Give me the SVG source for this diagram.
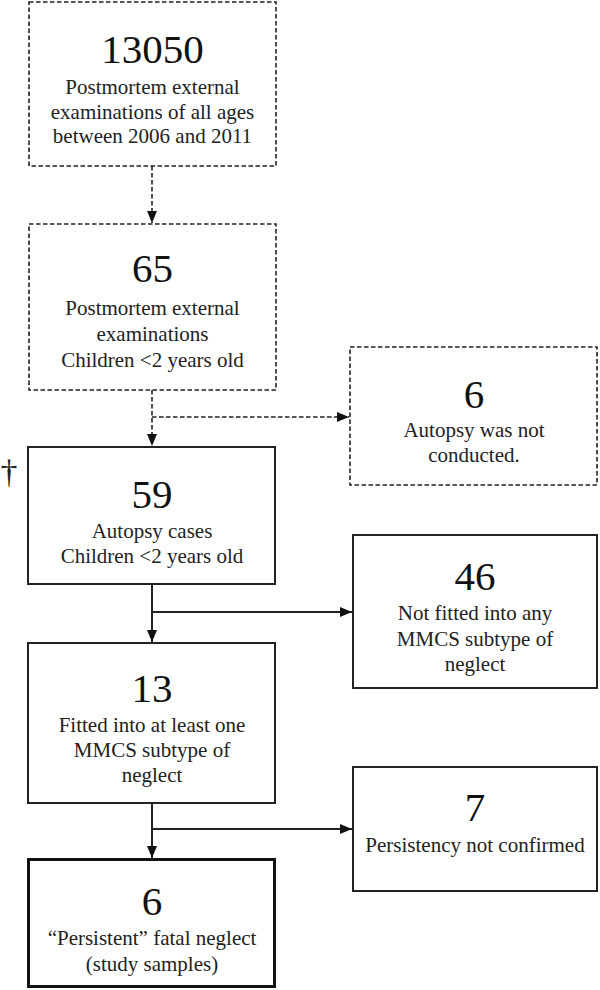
<svg xmlns="http://www.w3.org/2000/svg" width="600" height="990" viewBox="0 0 600 990">
<style>
  .box{fill:#fff;stroke:#222;stroke-width:2}
  .dash{fill:#fff;stroke:#222;stroke-width:1.6;stroke-dasharray:4.5 2.5}
  .final{fill:#fff;stroke:#111;stroke-width:3}
  .big{font-family:"Liberation Serif","Times New Roman",serif;font-size:41px;fill:#111;text-anchor:middle}
  .t{font-family:"Liberation Serif","Times New Roman",serif;font-size:21px;fill:#222;text-anchor:middle}
  .dg{font-family:"Liberation Serif","Times New Roman",serif;font-size:34px;fill:#222;text-anchor:middle}
  .c{fill:none;stroke:#222;stroke-width:2}
  .cd{fill:none;stroke:#222;stroke-width:1.6;stroke-dasharray:4.5 2.5}
</style>
<defs>
  <marker id="ah" viewBox="0 0 12 10" refX="12" refY="5" markerWidth="12" markerHeight="10" orient="auto" markerUnits="userSpaceOnUse">
    <path d="M0,0 L12,5 L0,10 z" fill="#111"/>
  </marker>
</defs>
<rect width="600" height="990" fill="#fff"/>
<g id="connectors">
  <line class="cd" x1="152" y1="166" x2="152" y2="223" marker-end="url(#ah)"/>
  <line class="cd" x1="152" y1="390" x2="152" y2="446" marker-end="url(#ah)"/>
  <line class="cd" x1="152" y1="417" x2="349" y2="417" marker-end="url(#ah)"/>
  <line class="c" x1="152" y1="584" x2="152" y2="642" marker-end="url(#ah)"/>
  <line class="c" x1="152" y1="612" x2="352" y2="612" marker-end="url(#ah)"/>
  <line class="c" x1="152" y1="803" x2="152" y2="858" marker-end="url(#ah)"/>
  <line class="c" x1="152" y1="829" x2="352" y2="829" marker-end="url(#ah)"/>
</g>
<g id="n13050">
  <rect class="dash" x="29" y="2" width="247" height="164"/>
  <text class="big" x="152.5" y="63">13050</text>
  <text class="t" x="152.5" y="94">Postmortem external</text>
  <text class="t" x="152.5" y="119">examinations of all ages</text>
  <text class="t" x="152.5" y="143">between 2006 and 2011</text>
</g>
<g id="n65">
  <rect class="dash" x="29" y="224" width="247" height="166"/>
  <text class="big" x="152.5" y="282">65</text>
  <text class="t" x="152.5" y="315">Postmortem external</text>
  <text class="t" x="152.5" y="341">examinations</text>
  <text class="t" x="152.5" y="367">Children &lt;2 years old</text>
</g>
<g id="n6a">
  <rect class="dash" x="350" y="347" width="247" height="138"/>
  <text class="big" x="474" y="408">6</text>
  <text class="t" x="474" y="437">Autopsy was not</text>
  <text class="t" x="474" y="462">conducted.</text>
</g>
<g id="dagger">
  <text class="dg" x="9" y="483">†</text>
</g>
<g id="n59">
  <rect class="box" x="28" y="447" width="247" height="137"/>
  <text class="big" x="152" y="508">59</text>
  <text class="t" x="152" y="538">Autopsy cases</text>
  <text class="t" x="152" y="563">Children &lt;2 years old</text>
</g>
<g id="n46">
  <rect class="box" x="353" y="535" width="244" height="153"/>
  <text class="big" x="475" y="590">46</text>
  <text class="t" x="475" y="620">Not fitted into any</text>
  <text class="t" x="475" y="646">MMCS subtype of</text>
  <text class="t" x="475" y="671">neglect</text>
</g>
<g id="n13">
  <rect class="box" x="28" y="643" width="247" height="160"/>
  <text class="big" x="152" y="702">13</text>
  <text class="t" x="152" y="732">Fitted into at least one</text>
  <text class="t" x="152" y="757">MMCS subtype of</text>
  <text class="t" x="152" y="782">neglect</text>
</g>
<g id="n7">
  <rect class="box" x="353" y="767" width="244" height="124"/>
  <text class="big" x="475" y="821">7</text>
  <text class="t" x="475" y="852">Persistency not confirmed</text>
</g>
<g id="n6b">
  <rect class="final" x="28.5" y="859.5" width="246" height="127"/>
  <text class="big" x="152" y="915">6</text>
  <text class="t" x="152" y="945">“Persistent” fatal neglect</text>
  <text class="t" x="152" y="971">(study samples)</text>
</g>
</svg>
